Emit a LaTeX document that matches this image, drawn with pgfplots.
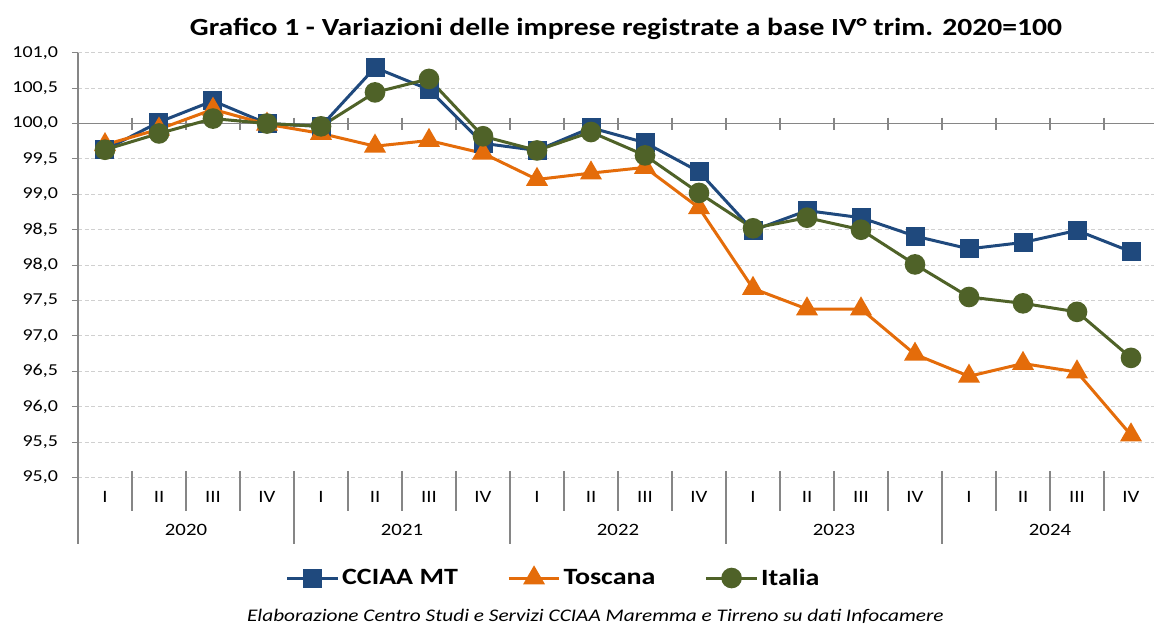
\documentclass[border=0pt]{standalone}
\usepackage{pgfplots}
\pgfplotsset{compat=1.18}
\usepackage{fontspec}
\setmainfont{Carlito}[FakeStretch=1.2]
\definecolor{cblue}{HTML}{1F497D}
\definecolor{corange}{HTML}{E46C0A}
\definecolor{cgreen}{HTML}{4F6228}
\definecolor{axgray}{HTML}{868686}
\definecolor{gridgray}{HTML}{D0D0D0}
\begin{document}
\begin{tikzpicture}
\path[use as bounding box] (0,0) rectangle (865.5pt,470.25pt);
\begin{axis}[
  at={(58.5pt,112.1pt)}, anchor=south west,
  scale only axis, width=810pt, height=318.6pt,
  xmin=0.5, xmax=20.5, ymin=95, ymax=101,
  clip=false,
  axis x line*=bottom, axis y line*=left,
  x axis line style={draw=none},
  y axis line style={draw=axgray, line width=0.8pt},
  ytick distance=0.5,
  ytick style={draw=axgray, line width=0.8pt},
  tick align=outside, major tick length=4.5pt,
  ymajorgrids,
  grid style={draw=gridgray, line width=0.8pt, dash pattern=on 3pt off 2pt},
  yticklabel style={font=\fontsize{12.5}{14}\selectfont, xshift=-7pt, /pgf/number format/.cd, fixed, fixed zerofill, precision=1, use comma, assume math mode=true},
  xtick={1,...,20},
  xticklabels={I,II,III,IV,I,II,III,IV,I,II,III,IV,I,II,III,IV,I,II,III,IV},
  xtick style={draw=none},
  xticklabel style={font=\fontsize{13}{15}\selectfont, anchor=base, yshift=-14.5pt},
  extra x ticks={2.5,6.5,10.5,14.5,18.5},
  extra x tick labels={2020,2021,2022,2023,2024},
  extra x tick style={xtick style={draw=none}, xticklabel style={yshift=-24.7pt}},
  legend style={at={(0.4407,-0.2366)}, anchor=center, draw=none, fill=none,
    legend columns=3, font=\bfseries\fontsize{17.5}{20}\selectfont,
    /tikz/every even column/.append style={column sep=35pt}},
  legend image code/.code={\draw[#1, mark repeat=2, mark phase=2] plot coordinates {(0pt,0pt) (19pt,0pt) (38pt,0pt)};},
]
% axis line at 100 with cross ticks
\draw[axgray, line width=0.8pt] (axis cs:0.5,100) -- (axis cs:20.5,100);
\pgfplotsinvokeforeach{1,...,19}{
  \draw[axgray, line width=0.8pt] ([yshift=4.5pt]axis cs:#1.5,100) -- ([yshift=-4.5pt]axis cs:#1.5,100);
}
% left axis extension
\draw[axgray, line width=0.8pt] (axis cs:0.5,95) -- ([yshift=-49.9pt]axis cs:0.5,95);
% quarter separators
\pgfplotsinvokeforeach{1,2,3,5,6,7,9,10,11,13,14,15,17,18,19}{
  \draw[axgray, line width=0.8pt] ([yshift=4.9pt]axis cs:#1.5,95) -- ([yshift=-25.1pt]axis cs:#1.5,95);
}
% year separators
\pgfplotsinvokeforeach{4,8,12,16}{
  \draw[axgray, line width=0.8pt] ([yshift=4.9pt]axis cs:#1.5,95) -- ([yshift=-49.9pt]axis cs:#1.5,95);
}
\addplot[cblue, line width=2.25pt, mark=square*, mark size=6pt, mark options={solid}] coordinates {
(1,99.63) (2,100.02) (3,100.32) (4,100.00) (5,99.96) (6,100.79) (7,100.48) (8,99.72) (9,99.62) (10,99.94)
(11,99.73) (12,99.32) (13,98.49) (14,98.77) (15,98.67) (16,98.41) (17,98.23) (18,98.32) (19,98.49) (20,98.19)};
\addlegendentry{CCIAA MT}
\addplot[corange, line width=2.25pt, mark=triangle*, mark size=7.3pt, mark options={solid}] coordinates {
(1,99.70) (2,99.92) (3,100.20) (4,99.99) (5,99.86) (6,99.68) (7,99.76) (8,99.58) (9,99.21) (10,99.30)
(11,99.38) (12,98.81) (13,97.67) (14,97.38) (15,97.38) (16,96.74) (17,96.43) (18,96.61) (19,96.49) (20,95.60)};
\addlegendentry{Toscana}
\addplot[cgreen, line width=2.25pt, mark=*, mark size=6.6pt, mark options={solid}] coordinates {
(1,99.63) (2,99.86) (3,100.07) (4,100.00) (5,99.96) (6,100.44) (7,100.63) (8,99.82) (9,99.62) (10,99.88)
(11,99.55) (12,99.02) (13,98.52) (14,98.67) (15,98.50) (16,98.01) (17,97.55) (18,97.46) (19,97.34) (20,96.69)};
\addlegendentry{Italia}
\node[font=\bfseries\fontsize{18.5}{22}\selectfont] at (rel axis cs:0.5074,1.055) {Grafico 1 - Variazioni delle imprese registrate a base IV° trim. 2020=100};
\node[font=\itshape\fontsize{13.3}{15}\selectfont] at (rel axis cs:0.479,-0.327) {Elaborazione Centro Studi e Servizi CCIAA Maremma e Tirreno su dati Infocamere};
\end{axis}
\end{tikzpicture}
\end{document}
